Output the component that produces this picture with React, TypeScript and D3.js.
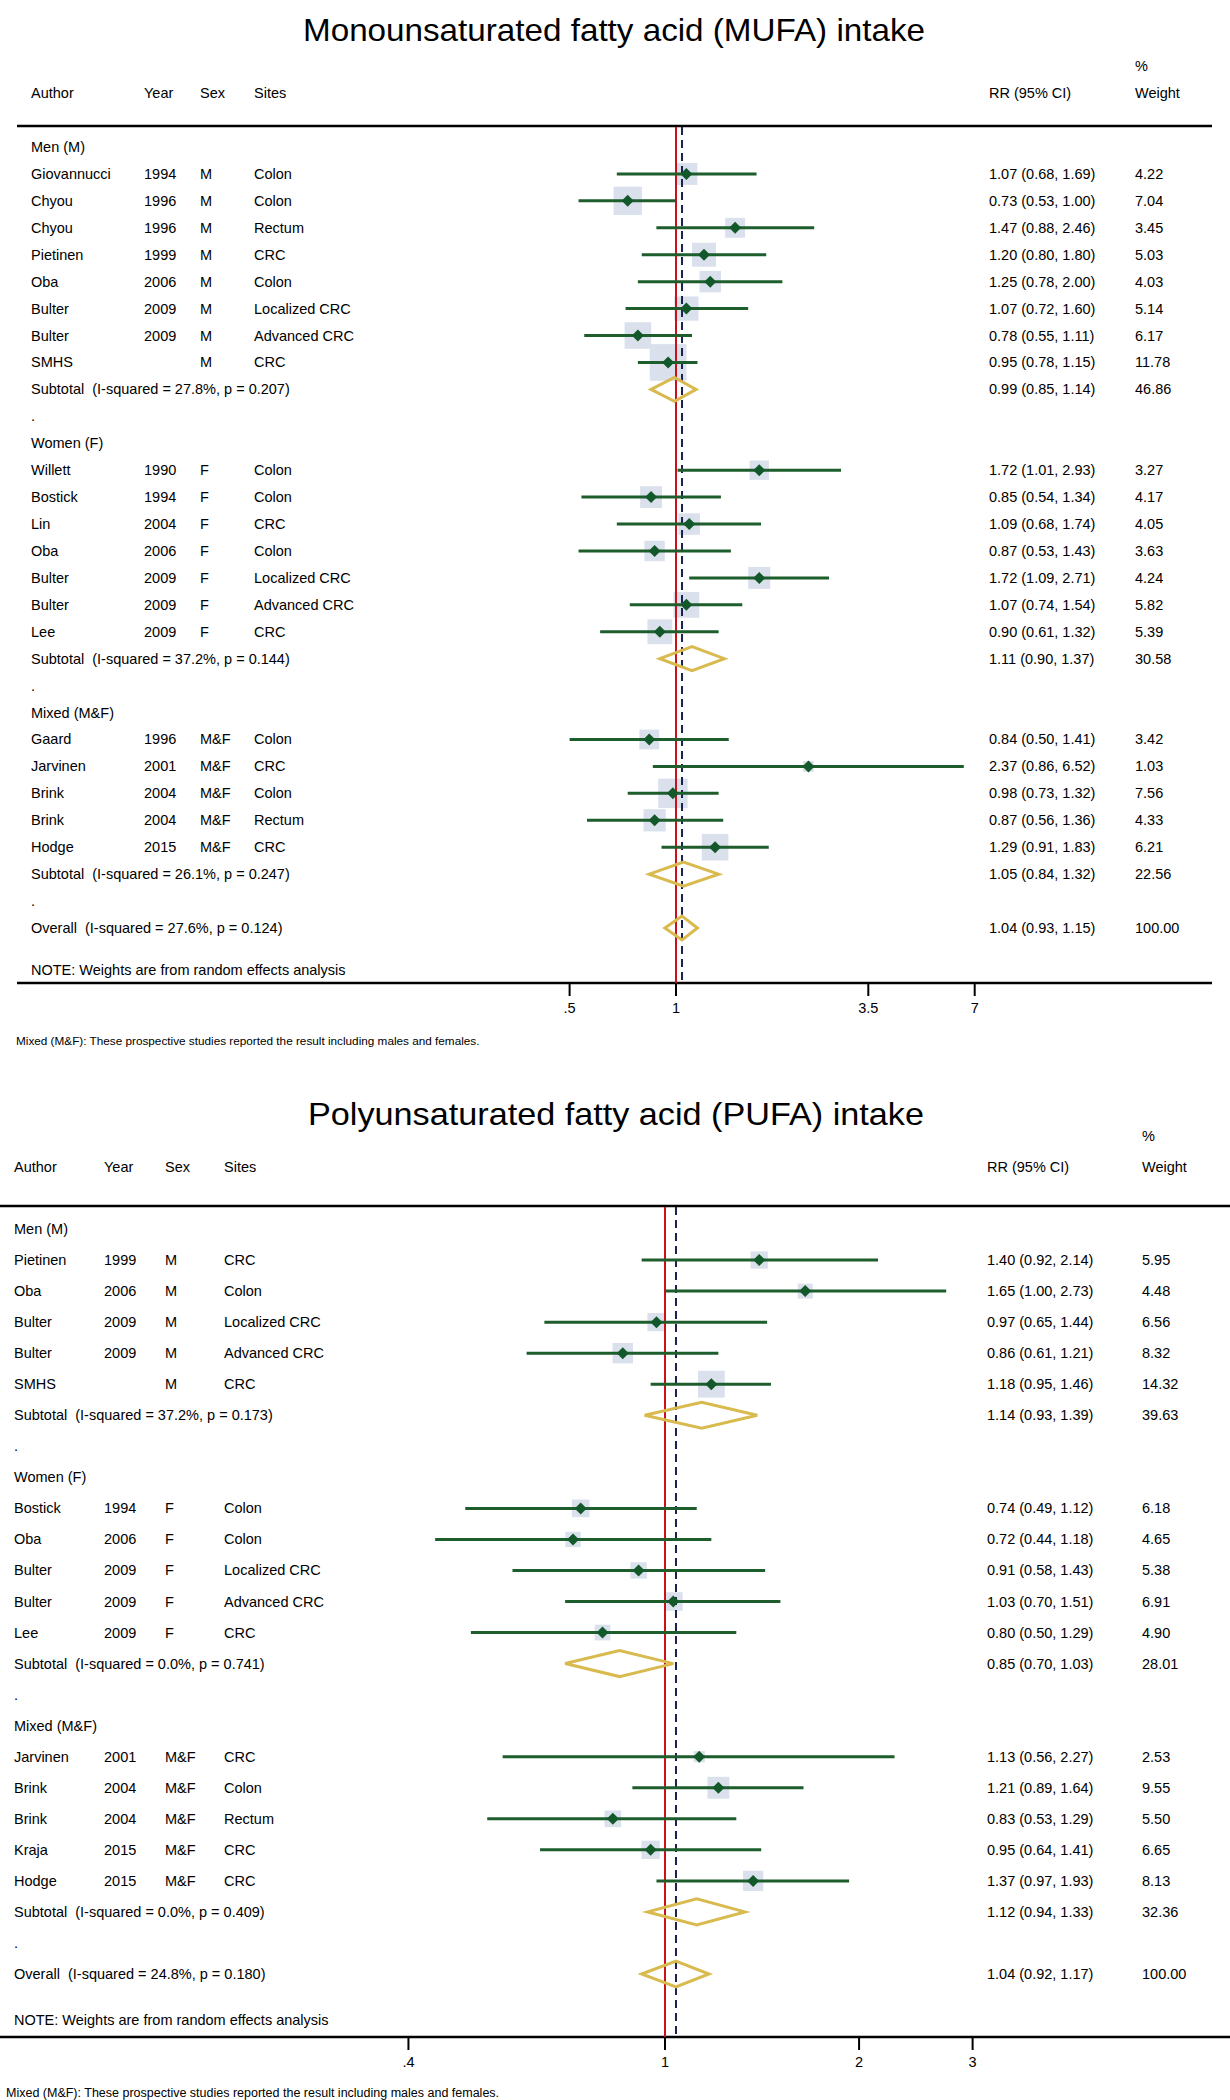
import React from "react";
import * as d3 from "d3";

type Study = { author: string; year: string; sex: string; site: string; rr: number; lo: number; hi: number; w: number };
type Pooled = { label: string; rr: number; lo: number; hi: number; w: number };

const groupLabels = ["Men (M)", "Women (F)", "Mixed (M&F)"];

// ---------- MUFA ----------
const mufaMen: Study[] = [
  { author: "Giovannucci", year: "1994", sex: "M", site: "Colon", rr: 1.07, lo: 0.68, hi: 1.69, w: 4.22 },
  { author: "Chyou", year: "1996", sex: "M", site: "Colon", rr: 0.73, lo: 0.53, hi: 1.0, w: 7.04 },
  { author: "Chyou", year: "1996", sex: "M", site: "Rectum", rr: 1.47, lo: 0.88, hi: 2.46, w: 3.45 },
  { author: "Pietinen", year: "1999", sex: "M", site: "CRC", rr: 1.2, lo: 0.8, hi: 1.8, w: 5.03 },
  { author: "Oba", year: "2006", sex: "M", site: "Colon", rr: 1.25, lo: 0.78, hi: 2.0, w: 4.03 },
  { author: "Bulter", year: "2009", sex: "M", site: "Localized CRC", rr: 1.07, lo: 0.72, hi: 1.6, w: 5.14 },
  { author: "Bulter", year: "2009", sex: "M", site: "Advanced CRC", rr: 0.78, lo: 0.55, hi: 1.11, w: 6.17 },
  { author: "SMHS", year: "", sex: "M", site: "CRC", rr: 0.95, lo: 0.78, hi: 1.15, w: 11.78 },
];
const mufaWomen: Study[] = [
  { author: "Willett", year: "1990", sex: "F", site: "Colon", rr: 1.72, lo: 1.01, hi: 2.93, w: 3.27 },
  { author: "Bostick", year: "1994", sex: "F", site: "Colon", rr: 0.85, lo: 0.54, hi: 1.34, w: 4.17 },
  { author: "Lin", year: "2004", sex: "F", site: "CRC", rr: 1.09, lo: 0.68, hi: 1.74, w: 4.05 },
  { author: "Oba", year: "2006", sex: "F", site: "Colon", rr: 0.87, lo: 0.53, hi: 1.43, w: 3.63 },
  { author: "Bulter", year: "2009", sex: "F", site: "Localized CRC", rr: 1.72, lo: 1.09, hi: 2.71, w: 4.24 },
  { author: "Bulter", year: "2009", sex: "F", site: "Advanced CRC", rr: 1.07, lo: 0.74, hi: 1.54, w: 5.82 },
  { author: "Lee", year: "2009", sex: "F", site: "CRC", rr: 0.9, lo: 0.61, hi: 1.32, w: 5.39 },
];
const mufaMixed: Study[] = [
  { author: "Gaard", year: "1996", sex: "M&F", site: "Colon", rr: 0.84, lo: 0.5, hi: 1.41, w: 3.42 },
  { author: "Jarvinen", year: "2001", sex: "M&F", site: "CRC", rr: 2.37, lo: 0.86, hi: 6.52, w: 1.03 },
  { author: "Brink", year: "2004", sex: "M&F", site: "Colon", rr: 0.98, lo: 0.73, hi: 1.32, w: 7.56 },
  { author: "Brink", year: "2004", sex: "M&F", site: "Rectum", rr: 0.87, lo: 0.56, hi: 1.36, w: 4.33 },
  { author: "Hodge", year: "2015", sex: "M&F", site: "CRC", rr: 1.29, lo: 0.91, hi: 1.83, w: 6.21 },
];
const mufaSubtotals: Pooled[] = [
  { label: "Subtotal  (I-squared = 27.8%, p = 0.207)", rr: 0.99, lo: 0.85, hi: 1.14, w: 46.86 },
  { label: "Subtotal  (I-squared = 37.2%, p = 0.144)", rr: 1.11, lo: 0.9, hi: 1.37, w: 30.58 },
  { label: "Subtotal  (I-squared = 26.1%, p = 0.247)", rr: 1.05, lo: 0.84, hi: 1.32, w: 22.56 },
];
const mufaOverall: Pooled = { label: "Overall  (I-squared = 27.6%, p = 0.124)", rr: 1.04, lo: 0.93, hi: 1.15, w: 100.0 };
const mufaTicks = [0.5, 1, 3.5, 7];
const mufaTickLabels = [".5", "1", "3.5", "7"];

// ---------- PUFA ----------
const pufaMen: Study[] = [
  { author: "Pietinen", year: "1999", sex: "M", site: "CRC", rr: 1.4, lo: 0.92, hi: 2.14, w: 5.95 },
  { author: "Oba", year: "2006", sex: "M", site: "Colon", rr: 1.65, lo: 1.0, hi: 2.73, w: 4.48 },
  { author: "Bulter", year: "2009", sex: "M", site: "Localized CRC", rr: 0.97, lo: 0.65, hi: 1.44, w: 6.56 },
  { author: "Bulter", year: "2009", sex: "M", site: "Advanced CRC", rr: 0.86, lo: 0.61, hi: 1.21, w: 8.32 },
  { author: "SMHS", year: "", sex: "M", site: "CRC", rr: 1.18, lo: 0.95, hi: 1.46, w: 14.32 },
];
const pufaWomen: Study[] = [
  { author: "Bostick", year: "1994", sex: "F", site: "Colon", rr: 0.74, lo: 0.49, hi: 1.12, w: 6.18 },
  { author: "Oba", year: "2006", sex: "F", site: "Colon", rr: 0.72, lo: 0.44, hi: 1.18, w: 4.65 },
  { author: "Bulter", year: "2009", sex: "F", site: "Localized CRC", rr: 0.91, lo: 0.58, hi: 1.43, w: 5.38 },
  { author: "Bulter", year: "2009", sex: "F", site: "Advanced CRC", rr: 1.03, lo: 0.7, hi: 1.51, w: 6.91 },
  { author: "Lee", year: "2009", sex: "F", site: "CRC", rr: 0.8, lo: 0.5, hi: 1.29, w: 4.9 },
];
const pufaMixed: Study[] = [
  { author: "Jarvinen", year: "2001", sex: "M&F", site: "CRC", rr: 1.13, lo: 0.56, hi: 2.27, w: 2.53 },
  { author: "Brink", year: "2004", sex: "M&F", site: "Colon", rr: 1.21, lo: 0.89, hi: 1.64, w: 9.55 },
  { author: "Brink", year: "2004", sex: "M&F", site: "Rectum", rr: 0.83, lo: 0.53, hi: 1.29, w: 5.5 },
  { author: "Kraja", year: "2015", sex: "M&F", site: "CRC", rr: 0.95, lo: 0.64, hi: 1.41, w: 6.65 },
  { author: "Hodge", year: "2015", sex: "M&F", site: "CRC", rr: 1.37, lo: 0.97, hi: 1.93, w: 8.13 },
];
const pufaSubtotals: Pooled[] = [
  { label: "Subtotal  (I-squared = 37.2%, p = 0.173)", rr: 1.14, lo: 0.93, hi: 1.39, w: 39.63 },
  { label: "Subtotal  (I-squared = 0.0%, p = 0.741)", rr: 0.85, lo: 0.7, hi: 1.03, w: 28.01 },
  { label: "Subtotal  (I-squared = 0.0%, p = 0.409)", rr: 1.12, lo: 0.94, hi: 1.33, w: 32.36 },
];
const pufaOverall: Pooled = { label: "Overall  (I-squared = 24.8%, p = 0.180)", rr: 1.04, lo: 0.92, hi: 1.17, w: 100.0 };
const pufaTicks = [0.4, 1, 2, 3];
const pufaTickLabels = [".4", "1", "2", "3"];

const noteText = "NOTE: Weights are from random effects analysis";
const footText = "Mixed (M&F): These prospective studies reported the result including males and females.";

// ---------- styling ----------
const FONT = "'Liberation Sans', Arial, Helvetica, sans-serif";
const FS = 14.5;
const C_BOX = "#dbe1ec";
const C_CI = "#1d5e2c";
const C_MARK = "#13582a";
const C_RED = "#cc1018";
const C_NAVY = "#1a2150";
const C_GOLD = "#d8ba4e";

type Row =
  | { kind: "group"; label: string }
  | ({ kind: "study" } & Study)
  | ({ kind: "sub" } & Pooled)
  | { kind: "dot" }
  | ({ kind: "overall" } & Pooled);

function buildRows(groups: Study[][], subs: Pooled[], overall: Pooled): Row[] {
  const rows: Row[] = [];
  groups.forEach((g, gi) => {
    rows.push({ kind: "group", label: groupLabels[gi] });
    g.forEach((s) => rows.push({ kind: "study", ...s }));
    rows.push({ kind: "sub", ...subs[gi] });
    rows.push({ kind: "dot" });
  });
  rows.push({ kind: "overall", ...overall });
  return rows;
}

type Cfg = {
  title: string; titleX: number; titleY: number; titleLen: number;
  pctY: number; headY: number; topRule: number; row0: number; rowLast: number;
  noteY: number; bottomRule: number; tickLabelY: number; footY: number; footFS: number;
  colAuthor: number; colYear: number; colSex: number; colSite: number; colRR: number; colW: number;
  ruleX0: number; ruleX1: number; footX: number;
  xOne: number; perLn: number; ticks: number[]; tickLabels: string[];
  boxK: number; diaH: number;
};

const fmt = d3.format(".2f");

function Forest({ cfg, rows }: { cfg: Cfg; rows: Row[] }) {
  const lo = Math.min(...cfg.ticks);
  const hi = Math.max(...cfg.ticks);
  const x = d3
    .scaleLog()
    .domain([lo, hi])
    .range([cfg.xOne + Math.log(lo) * cfg.perLn, cfg.xOne + Math.log(hi) * cfg.perLn]);
  const y = d3.scaleLinear().domain([0, rows.length - 1]).range([cfg.row0, cfg.rowLast]);
  const box = d3.scaleSqrt().domain([0, 1]).range([0, cfg.boxK]);
  const overallRow = rows.find((r) => r.kind === "overall") as any;
  const txt = (tx: number, ty: number, s: string, extra: any = {}) => (
    <text x={tx} y={ty} fontSize={FS} dominantBaseline="central" style={{ whiteSpace: "pre" }} {...extra}>
      {s}
    </text>
  );
  const diamond = (r: any, yy: number) => {
    const p = d3.path();
    p.moveTo(x(r.lo), yy);
    p.lineTo(x(r.rr), yy - cfg.diaH);
    p.lineTo(x(r.hi), yy);
    p.lineTo(x(r.rr), yy + cfg.diaH);
    p.closePath();
    return <path d={p.toString()} fill="none" stroke={C_GOLD} strokeWidth={3} strokeLinejoin="miter" />;
  };
  return (
    <g fontFamily={FONT} fill="#000">
      <text x={cfg.titleX} y={cfg.titleY} fontSize={32} textAnchor="middle" textLength={cfg.titleLen} lengthAdjust="spacingAndGlyphs">
        {cfg.title}
      </text>
      {txt(cfg.colW, cfg.pctY, "%")}
      {txt(cfg.colAuthor, cfg.headY, "Author")}
      {txt(cfg.colYear, cfg.headY, "Year")}
      {txt(cfg.colSex, cfg.headY, "Sex")}
      {txt(cfg.colSite, cfg.headY, "Sites")}
      {txt(cfg.colRR, cfg.headY, "RR (95% CI)")}
      {txt(cfg.colW, cfg.headY, "Weight")}
      <line x1={cfg.ruleX0} x2={cfg.ruleX1} y1={cfg.topRule} y2={cfg.topRule} stroke="#000" strokeWidth={2.5} />
      <line x1={cfg.ruleX0} x2={cfg.ruleX1} y1={cfg.bottomRule} y2={cfg.bottomRule} stroke="#000" strokeWidth={2.5} />
      {/* weight boxes */}
      {rows.map((r, i) =>
        r.kind === "study" ? (
          <rect
            key={"b" + i}
            x={x(r.rr) - box(r.w) / 2}
            y={y(i) - box(r.w) / 2}
            width={box(r.w)}
            height={box(r.w)}
            fill={C_BOX}
          />
        ) : null
      )}
      {/* reference lines */}
      <line x1={x(1)} x2={x(1)} y1={cfg.topRule + 1} y2={cfg.bottomRule} stroke={C_RED} strokeWidth={2} />
      <line
        x1={x(overallRow.rr)}
        x2={x(overallRow.rr)}
        y1={cfg.topRule + 1}
        y2={cfg.bottomRule}
        stroke={C_NAVY}
        strokeWidth={2}
        strokeDasharray="8,5"
      />
      {rows.map((r, i) => {
        const yy = y(i);
        if (r.kind === "group") return <g key={i}>{txt(cfg.colAuthor, yy, r.label)}</g>;
        if (r.kind === "dot") return <g key={i}>{txt(cfg.colAuthor, yy, ".")}</g>;
        if (r.kind === "study") {
          const cx = x(r.rr);
          return (
            <g key={i}>
              {txt(cfg.colAuthor, yy, r.author)}
              {txt(cfg.colYear, yy, r.year)}
              {txt(cfg.colSex, yy, r.sex)}
              {txt(cfg.colSite, yy, r.site)}
              {txt(cfg.colRR, yy, `${fmt(r.rr)} (${fmt(r.lo)}, ${fmt(r.hi)})`)}
              {txt(cfg.colW, yy, fmt(r.w))}
              <line x1={x(r.lo)} x2={x(r.hi)} y1={yy} y2={yy} stroke={C_CI} strokeWidth={3} />
              <path d={`M${cx - 6},${yy}L${cx},${yy - 6}L${cx + 6},${yy}L${cx},${yy + 6}Z`} fill={C_MARK} />
            </g>
          );
        }
        return (
          <g key={i}>
            {txt(cfg.colAuthor, yy, r.label)}
            {txt(cfg.colRR, yy, `${fmt(r.rr)} (${fmt(r.lo)}, ${fmt(r.hi)})`)}
            {txt(cfg.colW, yy, fmt(r.w))}
            {diamond(r, yy)}
          </g>
        );
      })}
      {txt(cfg.colAuthor, cfg.noteY, noteText)}
      {cfg.ticks.map((t, i) => (
        <g key={"t" + i}>
          <line x1={x(t)} x2={x(t)} y1={cfg.bottomRule} y2={cfg.bottomRule + 13} stroke="#000" strokeWidth={2} />
          <text x={x(t)} y={cfg.tickLabelY} fontSize={FS} textAnchor="middle" dominantBaseline="central">
            {cfg.tickLabels[i]}
          </text>
        </g>
      ))}
      <text x={cfg.footX} y={cfg.footY} fontSize={cfg.footFS} dominantBaseline="central">
        {footText}
      </text>
    </g>
  );
}

const mufaCfg: Cfg = {
  title: "Monounsaturated fatty acid (MUFA) intake", titleX: 614, titleY: 41, titleLen: 622,
  pctY: 66, headY: 93, topRule: 126, row0: 147, rowLast: 928,
  noteY: 970, bottomRule: 983, tickLabelY: 1008, footY: 1040, footFS: 11.75,
  colAuthor: 31, colYear: 144, colSex: 200, colSite: 254, colRR: 989, colW: 1135,
  ruleX0: 17, ruleX1: 1212, footX: 16,
  xOne: 676, perLn: 153.5, ticks: mufaTicks, tickLabels: mufaTickLabels,
  boxK: 10.7, diaH: 12,
};

const pufaCfg: Cfg = {
  title: "Polyunsaturated fatty acid (PUFA) intake", titleX: 616, titleY: 1125, titleLen: 616,
  pctY: 1136, headY: 1167, topRule: 1206, row0: 1229, rowLast: 1974,
  noteY: 2020, bottomRule: 2037, tickLabelY: 2062, footY: 2093, footFS: 12.5,
  colAuthor: 14, colYear: 104, colSex: 165, colSite: 224, colRR: 987, colW: 1142,
  ruleX0: 0, ruleX1: 1230, footX: 6,
  xOne: 665, perLn: 280, ticks: pufaTicks, tickLabels: pufaTickLabels,
  boxK: 7.1, diaH: 13,
};

export default function App() {
  const mufaRows = buildRows([mufaMen, mufaWomen, mufaMixed], mufaSubtotals, mufaOverall);
  const pufaRows = buildRows([pufaMen, pufaWomen, pufaMixed], pufaSubtotals, pufaOverall);
  return (
    <svg
      width={1230}
      height={2100}
      viewBox="0 0 1230 2100"
      style={{ position: "absolute", left: 0, top: 0, background: "#fff" }}
    >
      <rect width={1230} height={2100} fill="#fff" />
      <Forest cfg={mufaCfg} rows={mufaRows} />
      <Forest cfg={pufaCfg} rows={pufaRows} />
    </svg>
  );
}
